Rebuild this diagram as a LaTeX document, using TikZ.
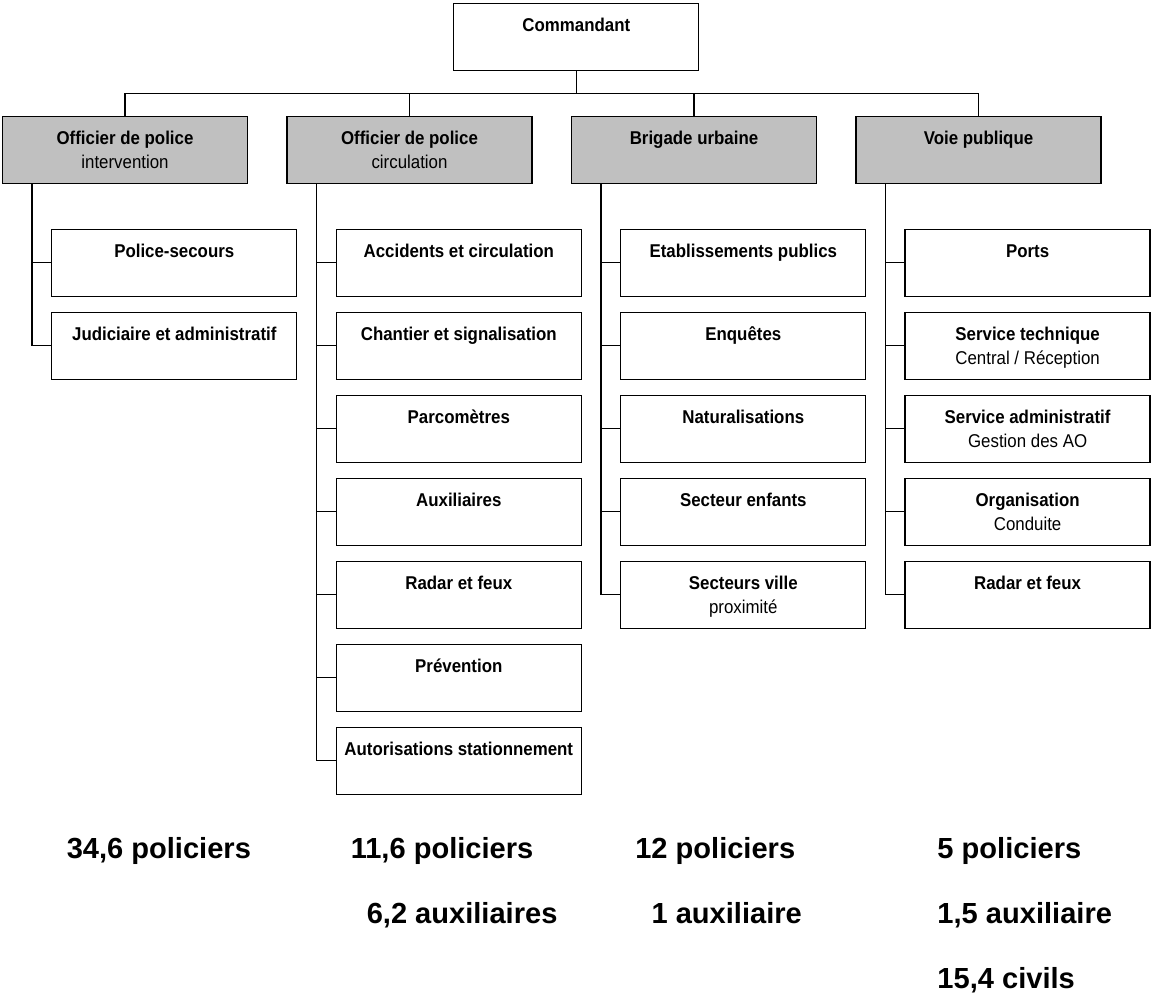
\documentclass[tikz,border=0pt]{standalone}
\usepackage{fontspec}
\setmainfont{Liberation Sans}
\newfontfamily\narrowsans[FakeStretch=0.91]{Liberation Sans}
\usetikzlibrary{positioning,calc}
\definecolor{headgray}{RGB}{192,192,192}
\newcommand{\orgtext}[2]{\rule{0pt}{15.6pt}\textbf{#1}\\#2\rule[-5.5pt]{0pt}{0pt}}
\tikzset{
  orgbox/.style={draw, line width=1pt, minimum width=183.75pt, minimum height=50.25pt,
    inner sep=0pt, align=center, font=\narrowsans\fontsize{13.9pt}{18.2pt}\selectfont},
  headbox/.style={orgbox, fill=headgray},
  subbox/.style={orgbox},
  tally/.style={anchor=base west, inner sep=0pt, font=\fontsize{21.8pt}{26pt}\selectfont\bfseries},
  wire/.style={line width=1pt}
}

\begin{document}
\begin{tikzpicture}[x=0.75pt,y=-0.75pt]
    \useasboundingbox (0,0) rectangle (1151,997);

    % Commandant
    \node[subbox] (Cmd) at (576.3,37) {\orgtext{Commandant}{}};

    % Services
    \node[headbox] (OffInt) at (125,149.7) {\orgtext{Officier de police}{intervention}};
    \node[headbox] (OffCirc) at (409.5,149.7) {\orgtext{Officier de police}{circulation}};
    \node[headbox] (Brig) at (694,149.7) {\orgtext{Brigade urbaine}{}};
    \node[headbox] (Voie) at (978.5,149.7) {\orgtext{Voie publique}{}};

    % Bus from Commandant to services
    \coordinate (Bus) at (576.3,93.3);
    \draw[wire] (Cmd.south) -- (Bus);
    \draw[wire] (OffInt.north) |- (Bus) -| (Voie.north);
    \draw[wire] (OffCirc.north) -- (OffCirc.north |- Bus);
    \draw[wire] (Brig.north) -- (Brig.north |- Bus);

    % Intervention
    \node[subbox] (I1) at (174.3,262.7) {\orgtext{Police-secours}{}};
    \node[subbox] (I2) at (174.3,345.7) {\orgtext{Judiciaire et administratif}{}};

    % Circulation
    \node[subbox] (C1) at (458.8,262.7) {\orgtext{Accidents et circulation}{}};
    \node[subbox] (C2) at (458.8,345.7) {\orgtext{Chantier et signalisation}{}};
    \node[subbox] (C3) at (458.8,428.7) {\orgtext{Parcomètres}{}};
    \node[subbox] (C4) at (458.8,511.7) {\orgtext{Auxiliaires}{}};
    \node[subbox] (C5) at (458.8,594.7) {\orgtext{Radar et feux}{}};
    \node[subbox] (C6) at (458.8,677.7) {\orgtext{Prévention}{}};
    \node[subbox] (C7) at (458.8,760.7) {\orgtext{Autorisations stationnement}{}};

    % Brigade urbaine
    \node[subbox] (B1) at (743.3,262.7) {\orgtext{Etablissements publics}{}};
    \node[subbox] (B2) at (743.3,345.7) {\orgtext{Enquêtes}{}};
    \node[subbox] (B3) at (743.3,428.7) {\orgtext{Naturalisations}{}};
    \node[subbox] (B4) at (743.3,511.7) {\orgtext{Secteur enfants}{}};
    \node[subbox] (B5) at (743.3,594.7) {\orgtext{Secteurs ville}{proximité}};

    % Voie publique
    \node[subbox] (V1) at (1027.6,262.7) {\orgtext{Ports}{}};
    \node[subbox] (V2) at (1027.6,345.7) {\orgtext{Service technique}{Central / Réception}};
    \node[subbox] (V3) at (1027.6,428.7) {\orgtext{Service administratif}{Gestion des AO}};
    \node[subbox] (V4) at (1027.6,511.7) {\orgtext{Organisation}{Conduite}};
    \node[subbox] (V5) at (1027.6,594.7) {\orgtext{Radar et feux}{}};

    % Trunks
    \coordinate (tInt) at ([xshift=22.5pt]OffInt.south west);
    \coordinate (tCirc) at ([xshift=22.5pt]OffCirc.south west);
    \coordinate (tBrig) at ([xshift=22.5pt]Brig.south west);
    \coordinate (tVoie) at ([xshift=22.5pt]Voie.south west);

    \draw[wire] (tInt) |- (I1.west) (tInt) |- (I2.west);
    \draw[wire] (tCirc) |- (C1.west) (tCirc) |- (C2.west) (tCirc) |- (C3.west)
        (tCirc) |- (C4.west) (tCirc) |- (C5.west) (tCirc) |- (C6.west) (tCirc) |- (C7.west);
    \draw[wire] (tBrig) |- (B1.west) (tBrig) |- (B2.west) (tBrig) |- (B3.west)
        (tBrig) |- (B4.west) (tBrig) |- (B5.west);
    \draw[wire] (tVoie) |- (V1.west) (tVoie) |- (V2.west) (tVoie) |- (V3.west)
        (tVoie) |- (V4.west) (tVoie) |- (V5.west);

    % Staff counts
    \node[tally] (nInt) at (66.5,858) {34,6 policiers};
    \node[tally] (nCirc) at (350.5,858) {11,6 policiers};
    \node[tally] (aCirc) at (366.5,923) {6,2 auxiliaires};
    \node[tally] (nBrig) at (635,858) {12 policiers};
    \node[tally] (aBrig) at (651.3,923) {1 auxiliaire};
    \node[tally] (nVoie) at (937.2,858) {5 policiers};
    \node[tally] (aVoie) at (937.2,923) {1,5 auxiliaire};
    \node[tally] (cVoie) at (937.2,988) {15,4 civils};

\end{tikzpicture}
\end{document}
